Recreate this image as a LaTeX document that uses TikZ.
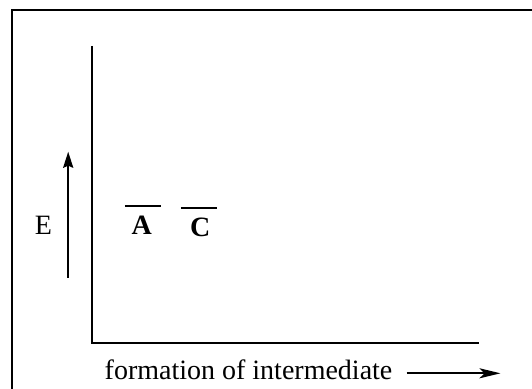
\documentclass[tikz,border=0pt]{standalone}
\usepackage{fontspec}
\setmainfont{Liberation Serif}
\usetikzlibrary{arrows.meta}

\begin{document}
\begin{tikzpicture}[x=1pt, y=-1pt, >=Stealth,
    axis/.style={line width=2.2pt},
    level/.style={line width=2.2pt},
    lbl/.style={font=\fontsize{28}{33}\selectfont, inner sep=0pt}]

  \useasboundingbox (0,0) rectangle (532,388);

  % Define key coordinates
  \coordinate (O) at (91.6, 342.7);      % origin of the axes
  \coordinate (Ytop) at (91.6, 45.8);    % top of energy axis
  \coordinate (Xend) at (478.5, 342.7);  % end of reaction axis

  % Outer frame (runs off the page on the right and bottom)
  \draw[line width=2pt] (12, 10) rectangle (560, 420);

  % Axes
  \draw[axis] (Ytop) -- (O) -- (Xend);

  % Energy arrow and label
  \coordinate (Ebot) at (68.2, 277.6);
  \coordinate (Etop) at (68.2, 151.7);
  \draw[line width=2.2pt, -{Stealth[length=16pt, width=10pt, inset=2pt]}] (Ebot) -- (Etop);
  \node[lbl] (E) at (43.4, 225.6) {E};

  % Levels A and C
  \coordinate (A1) at (124.9, 206);
  \coordinate (A2) at (161.2, 206);
  \coordinate (C1) at (180.9, 208.3);
  \coordinate (C2) at (217.2, 208.3);
  \draw[level] (A1) -- (A2);
  \draw[level] (C1) -- (C2);
  \node[lbl, anchor=base] (A) at (141.8, 234.8) {\textbf{A}};
  \node[lbl, anchor=base] (C) at (200.2, 236.5) {\textbf{C}};

  % Reaction coordinate label and arrow
  \node[lbl, anchor=base west] (form) at (104.5, 379) {formation of intermediate};
  \coordinate (Rstart) at (406.5, 373.3);
  \coordinate (Rend) at (500.5, 373.3);
  \draw[line width=2pt, -{Stealth[length=21pt, width=10pt, inset=5pt]}] (Rstart) -- (Rend);
\end{tikzpicture}
\end{document}
